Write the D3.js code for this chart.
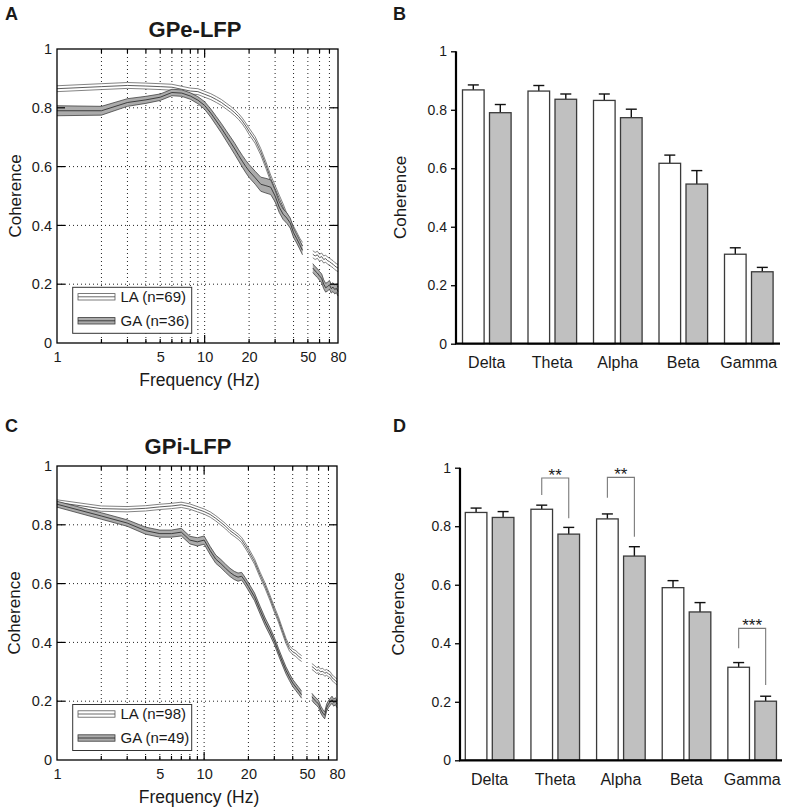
<!DOCTYPE html>
<html><head><meta charset="utf-8">
<script src="https://cdn.jsdelivr.net/npm/d3@7"></script>
<style>
body{margin:0;background:#fff}
svg{display:block}
text{font-family:"Liberation Sans",Arial,Helvetica,sans-serif;fill:#1a1a1a}
</style>
</head><body>
<svg id="chart" width="787" height="812"></svg>
<script>
// ---------------- DATA ----------------
const freqs = [1,2,3,4,5,6,7,8,9,10,11,12,13,14,15,16,17,18,19,20,22,24,26,28,30,32,34,36,38,40,42,44,46,
               54,56,58,60,62,64,66,68,70,72,74,76,78,80];
const notchHz = [46, 54];

const gpeLaMean = [0.865,0.872,0.876,0.874,0.872,0.870,0.863,0.857,0.855,0.846,0.838,0.828,0.818,0.806,0.795,0.783,0.770,0.755,0.738,0.720,0.690,0.650,0.605,0.560,0.525,0.492,0.462,0.430,0.405,0.385,0.365,0.345,0.330,
                   0.302,0.296,0.300,0.290,0.294,0.284,0.287,0.280,0.277,0.272,0.268,0.262,0.258,0.255];
const gpeLaSem  = [0.010,0.010,0.010,0.010,0.010,0.010,0.010,0.010,0.010,0.010,0.010,0.010,0.010,0.010,0.010,0.010,0.010,0.010,0.010,0.011,0.011,0.011,0.011,0.011,0.011,0.011,0.011,0.011,0.012,0.012,0.012,0.012,0.012,
                   0.012,0.012,0.012,0.012,0.012,0.012,0.012,0.012,0.012,0.012,0.012,0.012,0.012,0.012];
const gpeGaMean = [0.790,0.790,0.818,0.827,0.836,0.852,0.850,0.840,0.826,0.808,0.782,0.755,0.730,0.705,0.682,0.660,0.638,0.618,0.600,0.585,0.562,0.540,0.535,0.530,0.500,0.462,0.438,0.425,0.408,0.375,0.355,0.335,0.315,
                   0.255,0.245,0.238,0.228,0.220,0.200,0.188,0.192,0.198,0.185,0.190,0.182,0.186,0.175];
const gpeGaSem  = [0.017,0.015,0.013,0.012,0.011,0.011,0.011,0.011,0.012,0.013,0.014,0.015,0.016,0.017,0.018,0.019,0.019,0.020,0.021,0.022,0.022,0.024,0.025,0.025,0.020,0.018,0.018,0.018,0.017,0.016,0.015,0.015,0.015,
                   0.015,0.015,0.015,0.015,0.015,0.015,0.015,0.015,0.015,0.015,0.015,0.015,0.015,0.015];

const gpiLaMean = [0.876,0.855,0.853,0.856,0.861,0.864,0.868,0.862,0.853,0.845,0.835,0.822,0.808,0.795,0.780,0.770,0.760,0.748,0.730,0.712,0.675,0.630,0.592,0.552,0.512,0.478,0.440,0.405,0.380,0.368,0.362,0.352,0.345,
                   0.318,0.312,0.305,0.306,0.300,0.302,0.295,0.298,0.293,0.290,0.280,0.275,0.270,0.265];
const gpiLaSem  = [0.009,0.009,0.009,0.009,0.009,0.009,0.009,0.009,0.009,0.009,0.009,0.009,0.009,0.009,0.009,0.009,0.009,0.009,0.009,0.009,0.009,0.009,0.009,0.009,0.009,0.009,0.009,0.009,0.009,0.009,0.010,0.010,0.010,
                   0.010,0.010,0.010,0.010,0.010,0.010,0.010,0.010,0.010,0.010,0.010,0.010,0.010,0.010];
const gpiGaMean = [0.870,0.830,0.806,0.780,0.770,0.770,0.775,0.748,0.742,0.748,0.712,0.683,0.668,0.652,0.638,0.628,0.622,0.625,0.608,0.590,0.555,0.510,0.470,0.438,0.405,0.368,0.335,0.305,0.282,0.262,0.248,0.235,0.222,
                   0.215,0.205,0.198,0.190,0.172,0.160,0.152,0.178,0.190,0.198,0.205,0.195,0.200,0.190];
const gpiGaSem  = [0.010,0.011,0.011,0.012,0.012,0.012,0.013,0.013,0.014,0.014,0.014,0.014,0.014,0.014,0.014,0.014,0.014,0.013,0.013,0.013,0.013,0.013,0.013,0.013,0.012,0.012,0.012,0.012,0.012,0.012,0.012,0.012,0.012,
                   0.012,0.012,0.012,0.012,0.012,0.012,0.012,0.012,0.012,0.012,0.012,0.012,0.012,0.012];

const xTickLabels = [1,5,10,20,50,80];
const gridHz = [2,3,4,5,6,7,8,9,10,20,30,40,50,60,70];
const yTicks = [0,0.2,0.4,0.6,0.8,1];

const bandNames = ["Delta","Theta","Alpha","Beta","Gamma"];
const gpeLaBar = [0.868,0.864,0.832,0.617,0.306];
const gpeLaErr = [0.017,0.019,0.022,0.028,0.022];
const gpeGaBar = [0.790,0.836,0.773,0.546,0.246];
const gpeGaErr = [0.028,0.018,0.029,0.046,0.015];
const gpiLaBar = [0.847,0.858,0.825,0.590,0.318];
const gpiLaErr = [0.015,0.014,0.017,0.024,0.016];
const gpiGaBar = [0.830,0.773,0.698,0.507,0.202];
const gpiGaErr = [0.020,0.023,0.032,0.032,0.017];

const gpiSigBands  = ["Theta","Alpha","Gamma"];
const gpiSigLabels = ["**","**","***"];
const gpiSigTop    = [0.965,0.967,0.451];
const gpiSigFrom   = [0.907,0.897,0.383];
const gpiSigTo     = [0.827,0.764,0.257];

const legendA = ["LA (n=69)","GA (n=36)"];
const legendC = ["LA (n=98)","GA (n=49)"];

// ---------------- DRAW ----------------
const svg = d3.select("#chart");
const LA_FILL = "#ffffff", GA_FILL = "#ababab", BAR_GREY = "#c0c0c0";

function series(mean, sem){
  return freqs.map((f,i)=>({f, m:mean[i], s:sem[i]}));
}

function drawSpectrum(cfg){
  const x = d3.scaleLog().domain([1,80]).range([cfg.l, cfg.r]);
  const y = d3.scaleLinear().domain([0,1]).range([cfg.b, cfg.t]);
  const g = svg.append("g");

  // grid
  g.selectAll(".vg").data(gridHz).join("line")
    .attr("x1",d=>x(d)).attr("x2",d=>x(d)).attr("y1",cfg.t).attr("y2",cfg.b)
    .attr("stroke","#222").attr("stroke-width",1).attr("stroke-dasharray","1,3");
  g.selectAll(".hg").data(yTicks.filter(v=>v>0&&v<1)).join("line")
    .attr("x1",cfg.l).attr("x2",cfg.r).attr("y1",d=>y(d)).attr("y2",d=>y(d))
    .attr("stroke","#222").attr("stroke-width",1).attr("stroke-dasharray","1,3");

  // curves
  const area = d3.area().x(d=>x(d.f)).y0(d=>y(d.m-d.s)).y1(d=>y(d.m+d.s));
  const up = d3.line().x(d=>x(d.f)).y(d=>y(d.m+d.s));
  const lo = d3.line().x(d=>x(d.f)).y(d=>y(d.m-d.s));
  const mid = d3.line().x(d=>x(d.f)).y(d=>y(d.m));
  function band(data, fill, edge, midc){
    const segs = [data.filter(d=>d.f<=notchHz[0]), data.filter(d=>d.f>=notchHz[1])];
    segs.forEach(sd=>{
      g.append("path").attr("d",area(sd)).attr("fill",fill).attr("stroke","none");
      g.append("path").attr("d",up(sd)).attr("fill","none").attr("stroke",edge).attr("stroke-width",0.75);
      g.append("path").attr("d",lo(sd)).attr("fill","none").attr("stroke",edge).attr("stroke-width",0.75);
      g.append("path").attr("d",mid(sd)).attr("fill","none").attr("stroke",midc).attr("stroke-width",0.8);
    });
  }
  band(series(cfg.la[0],cfg.la[1]), LA_FILL, "#5a5a5a", "#333");
  band(series(cfg.ga[0],cfg.ga[1]), GA_FILL, "#3a3a3a", "#222");

  // legend
  const lg = g.append("g");
  lg.append("rect").attr("x",72.7).attr("y",cfg.legTop).attr("width",119).attr("height",46)
    .attr("fill","#fff").attr("stroke","#333").attr("stroke-width",1);
  const rows = [{fill:LA_FILL,edge:"#5a5a5a",mid:"#444"},{fill:GA_FILL,edge:"#3a3a3a",mid:"#222"}];
  rows.forEach((r,i)=>{
    const cy = cfg.legTop + 9.5 + i*24;
    lg.append("rect").attr("x",78).attr("y",cy-3.2).attr("width",37).attr("height",6.4)
      .attr("fill",r.fill).attr("stroke",r.edge).attr("stroke-width",0.8);
    lg.append("line").attr("x1",78).attr("x2",115).attr("y1",cy).attr("y2",cy)
      .attr("stroke",r.mid).attr("stroke-width",0.8);
    lg.append("text").attr("x",120.5).attr("y",cy+5.3).attr("font-size",15).text(cfg.legend[i]);
  });

  // frame
  g.append("rect").attr("x",cfg.l).attr("y",cfg.t).attr("width",cfg.r-cfg.l).attr("height",cfg.b-cfg.t)
    .attr("fill","none").attr("stroke","#000").attr("stroke-width",1.3);
  // inner ticks
  const tk = g.append("g").attr("stroke","#000").attr("stroke-width",1.2);
  gridHz.forEach(f=>{
    const len = (f===10)?8:4;
    tk.append("line").attr("x1",x(f)).attr("x2",x(f)).attr("y1",cfg.b).attr("y2",cfg.b-len);
    tk.append("line").attr("x1",x(f)).attr("x2",x(f)).attr("y1",cfg.t).attr("y2",cfg.t+len);
  });
  yTicks.filter(v=>v>0&&v<1).forEach(v=>{
    tk.append("line").attr("x1",cfg.l).attr("x2",cfg.l+8).attr("y1",y(v)).attr("y2",y(v));
    tk.append("line").attr("x1",cfg.r).attr("x2",cfg.r-8).attr("y1",y(v)).attr("y2",y(v));
  });

  // axes labels via d3 axes
  const xa = g.append("g").attr("transform",`translate(0,${cfg.b})`)
    .call(d3.axisBottom(x).tickValues(xTickLabels).tickFormat(d3.format("d")).tickSize(0).tickPadding(9));
  xa.select(".domain").remove();
  xa.selectAll("text").attr("font-size",14.5).attr("font-family",null).attr("fill","#1a1a1a");
  const ya = g.append("g").attr("transform",`translate(${cfg.l},0)`)
    .call(d3.axisLeft(y).tickValues(yTicks).tickFormat(d=>d===0||d===1?String(d):d.toFixed(1)).tickSize(0).tickPadding(5));
  ya.select(".domain").remove();
  ya.selectAll("text").attr("font-size",14.5).attr("font-family",null).attr("fill","#1a1a1a");

  g.append("text").attr("x",(cfg.l+cfg.r)/2+2).attr("y",cfg.b+43).attr("text-anchor","middle")
    .attr("font-size",17.5).text("Frequency (Hz)");
  g.append("text").attr("transform",`translate(${cfg.ylabX},${(cfg.t+cfg.b)/2}) rotate(-90)`)
    .attr("dy","0.35em").attr("text-anchor","middle").attr("font-size",17).text("Coherence");
  g.append("text").attr("x",cfg.titleX).attr("y",cfg.t-12.5).attr("text-anchor","middle")
    .attr("font-size",22).attr("font-weight","bold").text(cfg.title);
  g.append("text").attr("x",5).attr("y",cfg.letterY).attr("font-size",18).attr("font-weight","bold").text(cfg.letter);
}

function drawBars(cfg){
  const x = d3.scaleBand().domain(bandNames).range([cfg.x0,cfg.x1]).padding(0);
  const sub = d3.scaleBand().domain(["LA","GA"]).range([8.4,57]).paddingInner(0.2).paddingOuter(0);
  const y = d3.scaleLinear().domain([0,1]).range([cfg.b,cfg.t]);
  const g = svg.append("g");
  const data = [];
  bandNames.forEach((b,i)=>{
    data.push({b, k:"LA", v:cfg.la[i], e:cfg.laErr[i]});
    data.push({b, k:"GA", v:cfg.ga[i], e:cfg.gaErr[i]});
  });
  // error bars
  const eb = g.append("g").attr("stroke","#111").attr("stroke-width",1.4);
  data.forEach(d=>{
    const cx = x(d.b)+sub(d.k)+sub.bandwidth()/2;
    eb.append("line").attr("x1",cx).attr("x2",cx).attr("y1",y(d.v)).attr("y2",y(d.v+d.e));
    eb.append("line").attr("x1",cx-5.5).attr("x2",cx+5.5).attr("y1",y(d.v+d.e)).attr("y2",y(d.v+d.e));
  });
  g.selectAll(".bar").data(data).join("rect")
    .attr("x",d=>x(d.b)+sub(d.k)).attr("width",sub.bandwidth())
    .attr("y",d=>y(d.v)).attr("height",d=>cfg.b-y(d.v))
    .attr("fill",d=>d.k==="LA"?"#fff":BAR_GREY).attr("stroke","#3a3a3a").attr("stroke-width",1.3);

  // significance
  if(cfg.sig){
    cfg.sig.bands.forEach((b,i)=>{
      const xl = x(b)+sub("LA")+sub.bandwidth()/2;
      const xr = x(b)+sub("GA")+sub.bandwidth()/2;
      g.append("path").attr("d",`M${xl},${y(cfg.sig.from[i])}V${y(cfg.sig.top[i])}H${xr}V${y(cfg.sig.to[i])}`)
        .attr("fill","none").attr("stroke","#7a7a7a").attr("stroke-width",1.1);
      g.append("text").attr("x",(xl+xr)/2).attr("y",y(cfg.sig.top[i])+3).attr("text-anchor","middle")
        .attr("font-size",17).text(cfg.sig.labels[i]);
    });
  }

  // axes
  const ya = g.append("g").attr("transform",`translate(${cfg.axisX},0)`)
    .call(d3.axisLeft(y).tickValues(yTicks).tickFormat(d=>d===0||d===1?String(d):d.toFixed(1)).tickSize(5).tickPadding(4));
  ya.select(".domain").attr("stroke","#000").attr("stroke-width",2.2).attr("d",`M0,${y(1)}V${cfg.b}`);
  ya.selectAll(".tick line").attr("stroke","#000").attr("stroke-width",1.3);
  ya.selectAll("text").attr("font-size",14).attr("font-family",null).attr("fill","#1a1a1a");
  g.append("line").attr("x1",cfg.axisX-1).attr("x2",cfg.axisEnd).attr("y1",cfg.b).attr("y2",cfg.b)
    .attr("stroke","#000").attr("stroke-width",2.2);
  g.selectAll(".cat").data(bandNames).join("text")
    .attr("x",d=>x(d)+32.7).attr("y",cfg.b+24.5).attr("text-anchor","middle").attr("font-size",16).text(d=>d);
  g.append("text").attr("transform",`translate(${cfg.ylabX},${(cfg.t+cfg.b)/2}) rotate(-90)`)
    .attr("dy","0.35em").attr("text-anchor","middle").attr("font-size",17).text("Coherence");
  g.append("text").attr("x",393).attr("y",cfg.letterY).attr("font-size",18).attr("font-weight","bold").text(cfg.letter);
}

drawSpectrum({l:57,r:338,t:49,b:343,la:[gpeLaMean,gpeLaSem],ga:[gpeGaMean,gpeGaSem],
  legend:legendA,legTop:287.3,title:"GPe-LFP",titleX:195,ylabX:15,letter:"A",letterY:20});
drawSpectrum({l:57,r:337,t:466,b:760,la:[gpiLaMean,gpiLaSem],ga:[gpiGaMean,gpiGaSem],
  legend:legendC,legTop:704.5,title:"GPi-LFP",titleX:188,ylabX:14,letter:"C",letterY:432});

drawBars({axisX:456,t:51.3,b:343.7,x0:454.1,x1:781.6,axisEnd:780,la:gpeLaBar,laErr:gpeLaErr,ga:gpeGaBar,gaErr:gpeGaErr,
  ylabX:400,letter:"B",letterY:20});
drawBars({axisX:460,t:467.7,b:760.3,x0:456.9,x1:785.1,axisEnd:782,la:gpiLaBar,laErr:gpiLaErr,ga:gpiGaBar,gaErr:gpiGaErr,
  ylabX:398,letter:"D",letterY:432,
  sig:{bands:gpiSigBands,labels:gpiSigLabels,top:gpiSigTop,from:gpiSigFrom,to:gpiSigTo}});
</script>
</body></html>
